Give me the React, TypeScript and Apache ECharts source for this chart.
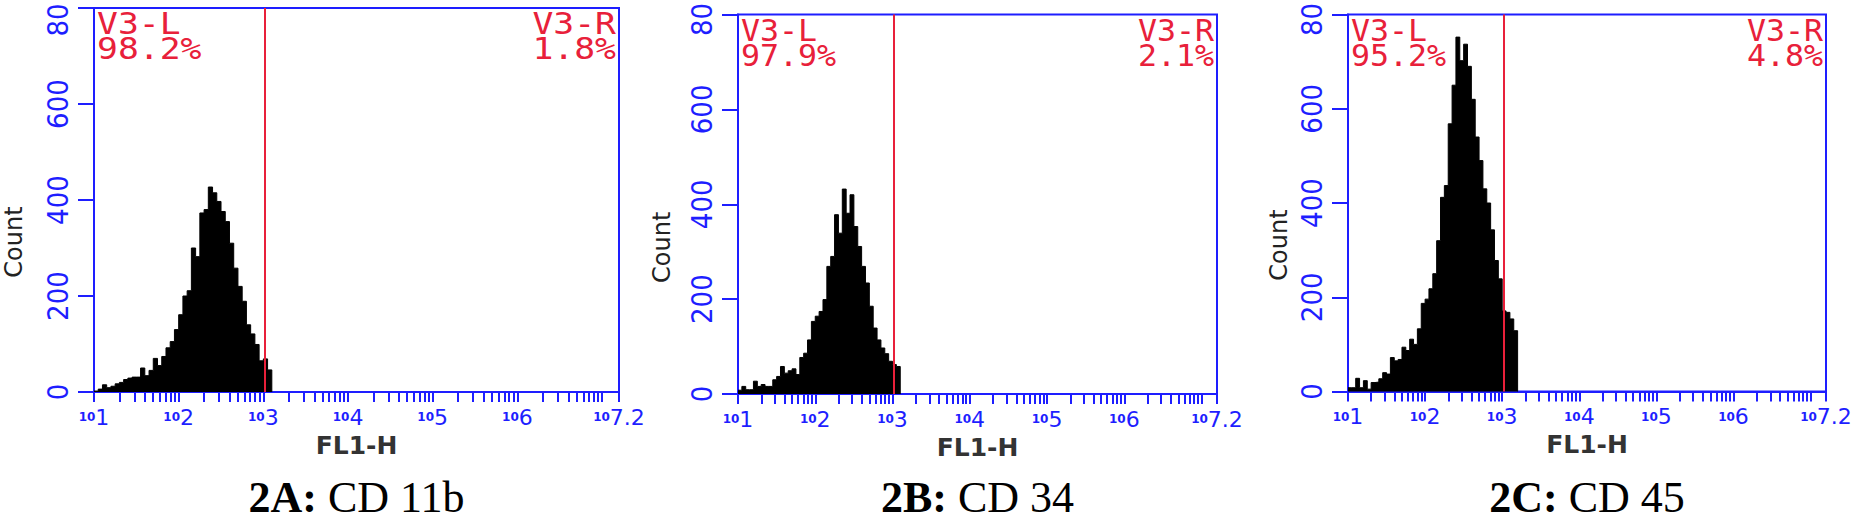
import React, { useEffect, useRef } from "react";
import * as echarts from "echarts";

// ---- data (histogram bins in decades of FL1-H, counts per bin) ----
const binStartLog = 1; // first bin edge = 10^1
const binWidthLog = 0.05; // bin width in decades
const countsCD11b = [2, 6, 15, 9, 12, 17, 20, 26, 29, 31, 31, 50, 34, 45, 70, 55, 74, 92, 105, 130, 161, 200, 211, 300, 282, 373, 380, 427, 415, 397, 376, 355, 310, 258, 220, 189, 140, 121, 99, 65, 69, 46];
const countsCD34 = [8, 16, 9, 9, 27, 16, 20, 16, 16, 30, 37, 58, 44, 49, 53, 41, 77, 86, 114, 153, 164, 174, 199, 269, 290, 378, 339, 432, 381, 420, 353, 311, 269, 234, 185, 139, 114, 97, 85, 69, 62, 58];
const countsCD45 = [8, 8, 28, 8, 23, 5, 19, 20, 27, 40, 37, 72, 65, 68, 94, 87, 111, 100, 133, 187, 196, 218, 250, 320, 412, 437, 568, 650, 752, 702, 737, 690, 620, 540, 490, 430, 400, 343, 278, 239, 171, 168, 154, 129];
const gateChannels = [1050, 1045, 1050];
const leftLabel = "V3-L";
const rightLabel = "V3-R";
const leftPct = ["98.2%", "97.9%", "95.2%"];
const rightPct = ["1.8%", "2.1%", "4.8%"];
const captionBold = ["2A:", "2B:", "2C:"];
const captionText = ["CD 11b", "CD 34", "CD 45"];
const yTickValues = [0, 200, 400, 600, 800];
const yTickLabels = ["0", "200", "400", "600", "80"];
const xLabelExponents = [1, 2, 3, 4, 5, 6, 7.2];
const xDecades = [1, 2, 3, 4, 5, 6];
const xMinorMultipliers = [1, 2, 3, 4, 5, 6, 7, 8, 9];
const xAxisName = "FL1-H";
const yAxisName = "Count";

// ---- layout / style ----
const BLUE = "#1e1eff";
const RED = "#e8203a";
const NARROW = "'Liberation Sans Narrow', 'DejaVu Sans Condensed', 'Liberation Sans', sans-serif";
const MONO = "'DejaVu Sans Mono', 'Liberation Mono', monospace";
const SERIF = "'Liberation Serif', 'DejaVu Serif', serif";
const SANS = "'DejaVu Sans', 'Liberation Sans', sans-serif";
const CAPTION_SIZE = 44;

const panels = [
  { left: 94, top: 8, width: 525, height: 384, countDx: 80, countDy: 42, sx: 1.12, topPad: 24 },
  { left: 738, top: 14.5, width: 479, height: 379.5, countDx: 76, countDy: 43, sx: 1.02, topPad: 10 },
  { left: 1348, top: 14.5, width: 478, height: 377, countDx: 69, countDy: 42, sx: 1.02, topPad: 10 },
];
const allCounts = [countsCD11b, countsCD34, countsCD45];

function toSeriesData(counts: number[]) {
  const pts: number[][] = counts.map((c, i) => [binStartLog + i * binWidthLog, c]);
  pts.push([binStartLog + counts.length * binWidthLog, 0]);
  return pts;
}

const tickValues: number[] = [];
xDecades.forEach((d) => xMinorMultipliers.forEach((m) => tickValues.push(d + Math.log10(m))));
tickValues.push(7, 7.2);

export default function App() {
  const ref = useRef<HTMLDivElement>(null);
  useEffect(() => {
    document.body.style.margin = "0";
    const chart = echarts.init(ref.current!, undefined, { renderer: "svg" });
    const grid: any[] = [];
    const xAxis: any[] = [];
    const yAxis: any[] = [];
    const series: any[] = [];
    const graphic: any[] = [];
    panels.forEach((p, i) => {
      grid.push({
        left: p.left, top: p.top, width: p.width, height: p.height,
        show: true, borderColor: BLUE, borderWidth: 2, backgroundColor: "transparent",
        containLabel: false, outerBoundsMode: "none",
      });
      xAxis.push({
        gridIndex: i, type: "value", min: 1, max: 7.2, interval: 1,
        axisLine: { show: true, onZero: false, lineStyle: { color: BLUE, width: 2 } },
        axisTick: { show: true, length: 10, lineStyle: { color: BLUE, width: 2 }, customValues: tickValues },
        axisLabel: {
          margin: 14, showMinLabel: true, showMaxLabel: true, hideOverlap: false,
          customValues: xLabelExponents,
          formatter: (v: number) => {
            const r = Math.round(v * 10) / 10;
            return xLabelExponents.indexOf(r) >= 0 ? `{s|10}{e|${r}}` : "";
          },
          rich: {
            s: { fontSize: 12, fontWeight: "bold", color: BLUE, fontFamily: SANS },
            e: { fontSize: 22, color: BLUE, fontFamily: SANS },
          },
        },
        splitLine: { show: false },
        name: xAxisName, nameLocation: "middle", nameGap: 38,
        nameTextStyle: { color: "#333", fontSize: 25, fontWeight: "bold", fontFamily: SANS },
      });
      yAxis.push({
        gridIndex: i, type: "value", min: 0, max: 800, interval: 200,
        axisLine: { show: true, lineStyle: { color: BLUE, width: 2 } },
        axisTick: { show: true, length: 16, lineStyle: { color: BLUE, width: 2 } },
        axisLabel: {
          rotate: 90, margin: 22, color: BLUE, fontSize: 29, fontFamily: NARROW,
          showMaxLabel: true, showMinLabel: true,
          formatter: (v: number) => {
            const k = yTickValues.indexOf(v);
            if (k < 0) return "";
            return k === yTickValues.length - 1 ? `{t|${yTickLabels[k]}}` : yTickLabels[k];
          },
          rich: {
            t: { color: BLUE, fontSize: 29, fontFamily: NARROW, padding: [0, p.topPad, 0, 0] },
          },
        },
        splitLine: { show: false },
      });
      series.push({
        type: "line", xAxisIndex: i, yAxisIndex: i, step: "end", symbol: "none",
        data: toSeriesData(allCounts[i]),
        lineStyle: { color: "#000", width: 1 },
        areaStyle: { color: "#000", opacity: 1 },
        markLine: {
          silent: true, symbol: ["none", "none"], label: { show: false },
          lineStyle: { color: RED, width: 2, type: "solid" },
          data: [{ xAxis: Math.log10(gateChannels[i]) }],
        },
      });
      graphic.push({
        type: "text", x: p.left - p.countDx, y: p.top + p.height / 2 + p.countDy, rotation: Math.PI / 2,
        style: { text: yAxisName, fill: "#222", font: "normal 24px 'DejaVu Sans', 'Liberation Sans', sans-serif", align: "center", verticalAlign: "middle" },
      });
      graphic.push({
        type: "text", x: p.left + 3, y: p.top + 3, scaleX: p.sx,
        style: { text: `${leftLabel}\n${leftPct[i]}`, fill: RED, fontFamily: MONO, fontSize: 31, lineHeight: 25, align: "left", verticalAlign: "top" },
      });
      graphic.push({
        type: "text", x: p.left + p.width - 3, y: p.top + 3, scaleX: p.sx,
        style: { text: `${rightLabel}\n${rightPct[i]}`, fill: RED, fontFamily: MONO, fontSize: 31, lineHeight: 25, align: "right", verticalAlign: "top" },
      });
      graphic.push({
        type: "text", x: p.left + p.width / 2, y: 497,
        style: {
          text: `{b|${captionBold[i]}} {r|${captionText[i]}}`,
          rich: {
            b: { fontWeight: "bold", fontSize: CAPTION_SIZE, lineHeight: 36, fontFamily: SERIF, fill: "#000" },
            r: { fontSize: CAPTION_SIZE, lineHeight: 36, fontFamily: SERIF, fill: "#000" },
          },
          fontSize: CAPTION_SIZE, lineHeight: 36, fontFamily: SERIF,
          align: "center", verticalAlign: "middle",
        },
      });
    });
    chart.setOption({ animation: false, backgroundColor: "#fff", grid, xAxis, yAxis, series, graphic });
    return () => chart.dispose();
  }, []);
  return <div ref={ref} style={{ width: 1852, height: 522, background: "#fff" }} />;
}
